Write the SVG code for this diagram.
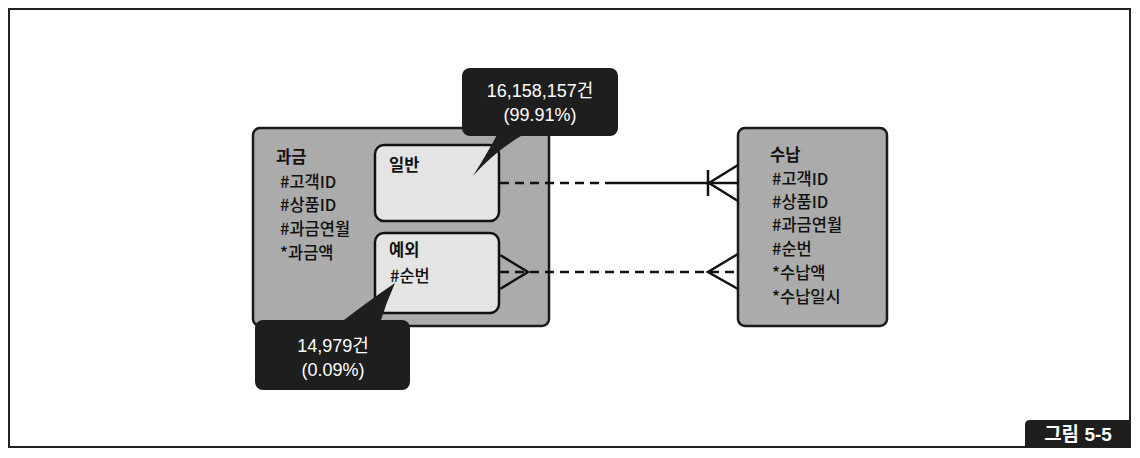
<svg xmlns="http://www.w3.org/2000/svg" width="1140" height="458" viewBox="0 0 1140 458">
<style>
.t{font-family:"Noto Sans CJK KR","Liberation Sans",sans-serif;font-size:16.5px;fill:#111;font-weight:500}
.b{font-weight:bold}
.w{font-family:"Liberation Sans","Noto Sans CJK KR",sans-serif;font-size:18px;fill:#fff;text-anchor:middle}
.ent{fill:#ababab;stroke:#1a1a1a;stroke-width:2.5}
.sub{fill:#e4e4e4;stroke:#111;stroke-width:2.5}
.call{fill:#1e1e1e}
.ln{stroke:#111;stroke-width:2.5;fill:none}
.dash{stroke-dasharray:9 6}
</style>
<rect x="0" y="0" width="1140" height="458" fill="#fff"/>
<rect x="9" y="9" width="1121" height="438" fill="none" stroke="#222" stroke-width="2"/>

<g id="billing">
<rect class="ent" x="253" y="128" width="296" height="198" rx="7"/>
<text class="t b" x="276" y="163">과금</text>
<text class="t" x="280" y="188">#고객ID</text>
<text class="t" x="280" y="211">#상품ID</text>
<text class="t" x="280" y="235">#과금연월</text>
<text class="t" x="280" y="259">*과금액</text>
</g>

<g id="general">
<rect class="sub" x="375" y="145" width="124" height="76" rx="9"/>
<text class="t b" x="389" y="171">일반</text>
</g>

<g id="exception">
<rect class="sub" x="375" y="233" width="124" height="80" rx="9"/>
<text class="t b" x="389" y="256">예외</text>
<text class="t" x="390" y="282">#순번</text>
</g>

<g id="payment">
<rect class="ent" x="738" y="128" width="149" height="198" rx="7"/>
<text class="t b" x="770" y="161">수납</text>
<text class="t" x="772" y="185">#고객ID</text>
<text class="t" x="772" y="208">#상품ID</text>
<text class="t" x="772" y="231">#과금연월</text>
<text class="t" x="772" y="255">#순번</text>
<text class="t" x="772" y="279">*수납액</text>
<text class="t" x="772" y="303">*수납일시</text>
</g>

<g id="connectors">
<line class="ln dash" x1="500" y1="183" x2="614" y2="183"/>
<line class="ln" x1="614" y1="183" x2="738" y2="183"/>
<line class="ln" x1="708" y1="170" x2="708" y2="196"/>
<polyline class="ln" points="738,165 709,183 738,201"/>
<line class="ln dash" x1="500" y1="272" x2="738" y2="272"/>
<polyline class="ln" points="500,255 528,272 500,289"/>
<polyline class="ln" points="738,254 708,272 738,289"/>
</g>

<g id="callout-general">
<rect class="call" x="462" y="68" width="156" height="68" rx="8"/>
<path class="call" d="M498,133 L526,133 Q496,150 473,176 Q488,152 498,133 Z"/>
<text class="w" x="540" y="97">16,158,157건</text>
<text class="w" x="540" y="121">(99.91%)</text>
</g>

<g id="callout-exception">
<rect class="call" x="255" y="320" width="155" height="70" rx="8"/>
<path class="call" d="M340,323 L380,323 Q386,303 395,283 Q370,300 340,323 Z"/>
<text class="w" x="333" y="352">14,979건</text>
<text class="w" x="333" y="376">(0.09%)</text>
</g>

<g id="figure-label">
<path class="call" d="M1030,420 L1130,420 L1130,447 L1025,447 L1025,425 Q1025,420 1030,420 Z"/>
<text class="w" x="1078" y="441" style="font-weight:bold;font-size:19px">그림 5-5</text>
</g>
</svg>
